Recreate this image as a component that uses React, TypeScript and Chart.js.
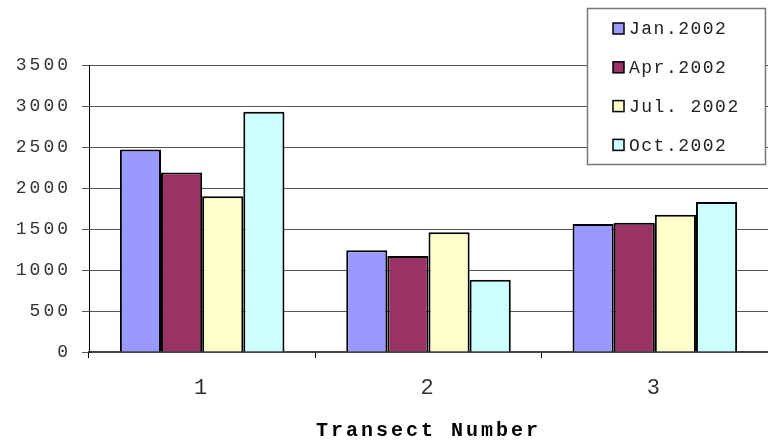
import { useEffect, useRef } from 'react';
import { Chart, registerables } from 'chart.js';

Chart.register(...registerables);

// Transect numbers along the x axis
const categories = ['1', '2', '3'];

// Survey series (one value per transect)
const seriesNames = ['Jan.2002', 'Apr.2002', 'Jul. 2002', 'Oct.2002'];
const jan2002 = [2470, 1240, 1560];
const apr2002 = [2190, 1170, 1575];
const jul2002 = [1900, 1460, 1675];
const oct2002 = [2930, 880, 1830];

// Value axis range
const yMin = 0;
const yMax = 3500;
const yStep = 500;

const seriesColors = ['#9999FF', '#993366', '#FFFFCC', '#CCFFFF'];
const mono = "'Liberation Mono', 'Courier New', monospace";

// Boxed legend drawn over the top-right corner of the plot
const boxedLegend = {
  id: 'boxedLegend',
  beforeDraw(chart: any) {
    (chart.ctx as any).letterSpacing = '3px';
  },
  afterDraw(chart: any) {
    const ctx = chart.ctx as CanvasRenderingContext2D;
    ctx.save();
    (ctx as any).letterSpacing = '1.5px';
    const x = 587.5;
    const y = 8.5;
    const w = 178;
    const h = 156;
    ctx.fillStyle = '#ffffff';
    ctx.fillRect(x, y, w, h);
    ctx.strokeStyle = '#777777';
    ctx.lineWidth = 1.5;
    ctx.strokeRect(x, y, w, h);
    const rowStart = 28.5;
    const rowGap = 38.8;
    chart.data.datasets.forEach((ds: any, i: number) => {
      const cy = rowStart + i * rowGap;
      ctx.fillStyle = ds.backgroundColor;
      ctx.fillRect(613, cy - 5.5, 11, 11);
      ctx.strokeStyle = '#000000';
      ctx.lineWidth = 1.5;
      ctx.strokeRect(613, cy - 5.5, 11, 11);
      ctx.fillStyle = '#222222';
      ctx.font = `18px ${mono}`;
      ctx.textBaseline = 'middle';
      ctx.textAlign = 'left';
      ctx.fillText(ds.label, 629, cy + 1);
    });
    ctx.restore();
  },
};

export default function App() {
  const canvasRef = useRef<HTMLCanvasElement | null>(null);

  useEffect(() => {
    if (!canvasRef.current) return;
    const values = [jan2002, apr2002, jul2002, oct2002];
    const chart = new Chart(canvasRef.current, {
      type: 'bar',
      data: {
        labels: categories,
        datasets: seriesNames.map((name, i) => ({
          label: name,
          data: values[i],
          backgroundColor: seriesColors[i],
          borderColor: '#000000',
          borderWidth: 2,
          categoryPercentage: 0.727,
          barPercentage: 1,
        })),
      },
      options: {
        animation: false,
        responsive: true,
        maintainAspectRatio: false,
        layout: { padding: { top: 65, left: 0, right: 0, bottom: 0 } },
        plugins: {
          legend: { display: false },
          tooltip: { enabled: false },
          title: { display: false },
        },
        scales: {
          x: {
            type: 'category',
            offset: true,
            afterFit: (s: any) => {
              s.height = 91;
            },
            grid: {
              offset: true,
              drawOnChartArea: false,
              drawTicks: true,
              tickLength: 6,
              color: '#000000',
              lineWidth: 1,
            },
            border: { display: true, color: '#444444', width: 2 },
            ticks: {
              padding: 17,
              color: '#333333',
              font: { family: mono, size: 22 },
            },
            title: {
              display: true,
              text: 'Transect Number',
              color: '#000000',
              font: { family: mono, size: 20, weight: 'bold', lineHeight: 1 },
              padding: { top: 0, bottom: 2 },
            },
          },
          y: {
            min: yMin,
            max: yMax,
            afterFit: (s: any) => {
              s.width = 89;
            },
            grid: {
              color: '#555555',
              lineWidth: 1,
              tickLength: 7,
            },
            border: { display: true, color: '#000000', width: 1 },
            ticks: {
              stepSize: yStep,
              padding: 11,
              color: '#333333',
              font: { family: mono, size: 18 },
              callback: (v: any) => String(v),
            },
          },
        },
      },
      plugins: [boxedLegend],
    });
    return () => chart.destroy();
  }, []);

  return (
    <div style={{ position: 'fixed', left: 0, top: 0, width: 768, height: 443, background: '#ffffff' }}>
      <canvas ref={canvasRef} />
    </div>
  );
}
